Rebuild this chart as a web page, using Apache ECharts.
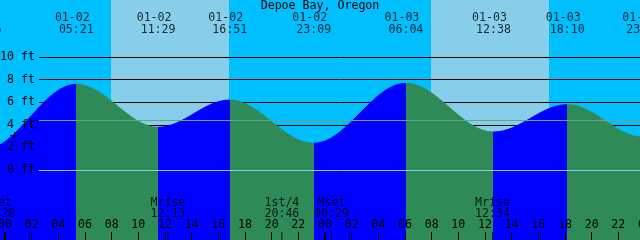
<!DOCTYPE html>
<html><head><meta charset="utf-8">
<script src="https://cdn.jsdelivr.net/npm/echarts@6/dist/echarts.min.js"></script>
<style>html,body{margin:0;padding:0;background:#00BFFF}#c{width:640px;height:240px}</style>
</head><body><div id="c"></div>
<script>
// ---------- data ----------
const title = 'Depoe Bay, Oregon';
// tide extremes (first and last are estimated, off-chart, only to shape the edges)
const tideDate   = ['01-01','01-01','01-02','01-02','01-02','01-02','01-03','01-03','01-03','01-03','01-04'];
const tideClock  = ['16:00','22:26','05:21','11:29','16:51','23:09','06:04','12:38','18:10','23:54','06:40'];
const tideHeight = [6.6, 1.8, 7.58, 3.78, 6.19, 2.36, 7.67, 3.36, 5.78, 2.9, 7.4];
// moon events
const moonName  = ['Mset','Mrise','1st/4','Mset','Mrise'];
const moonDate  = ['01-01','01-02','01-02','01-03','01-03'];
const moonClock = ['23:28','12:13','20:46','00:29','12:34'];
// daylight
const sunDate  = ['01-02','01-03'];
const sunrise  = ['07:57','07:57'];
const sunset   = ['16:48','16:48'];
// depth labels
const depthTicks = [0, 2, 4, 6, 8, 10];
const meanLevel = 4.4;
// marker "+"
const markerPts = [['01-02','00:43', 3.05]];

// ---------- layout ----------
const W = 640, H = 240, HOURS = 48, X0 = 5;
const PXH = W / HOURS;
const Y0 = 170, PXF = 11.3;
const FONT = '"DejaVu Sans Mono", monospace';
const FS = 11.6;
const RISE = '#0000FF', FALL = '#2E8B57', NIGHT = '#00BFFF', DAY = '#87CEEB';

function hrs(date, clock) {
  const d = +date.split('-')[1];
  const [h, m] = clock.split(':').map(Number);
  return (d - 2) * 24 + h + m / 60;
}
const tideT = tideDate.map((d, i) => hrs(d, tideClock[i]));
const tideData = tideT.map((t, i) => [t, tideHeight[i]]);
const pieces = [];
for (let i = 0; i < tideT.length - 1; i++) {
  pieces.push({gte: tideT[i], lt: tideT[i + 1], color: tideHeight[i + 1] > tideHeight[i] ? RISE : FALL});
}
const moonT = moonDate.map((d, i) => hrs(d, moonClock[i]));
const bands = sunDate.map((d, i) => [{xAxis: hrs(d, sunrise[i])}, {xAxis: hrs(d, sunset[i])}]);
const xMin = -X0 / PXH, xMax = (W - X0) / PXH;
const yMin = -(H - Y0) / PXF, yMax = Y0 / PXF;
const pad = n => (n < 10 ? '0' : '') + n;
const txt = {fontFamily: FONT, fontSize: FS, color: '#000'};
const noLine = {show: false, onZero: false};

const chart = echarts.init(document.getElementById('c'), null, {renderer: 'canvas'});
chart.setOption({
  animation: false,
  backgroundColor: NIGHT,
  title: {text: title, left: 'center', top: 0, padding: 0,
    textStyle: Object.assign({fontWeight: 'normal', lineHeight: 12}, txt)},
  grid: [
    {left: 0, right: 0, top: 0, bottom: 0, outerBoundsMode: 'none', containLabel: false},
    {left: 39, right: 0, top: Y0 - 10 * PXF, height: 10 * PXF, outerBoundsMode: 'none', containLabel: false},
    {left: X0, width: W, top: 0, bottom: 0, outerBoundsMode: 'none', containLabel: false}
  ],
  visualMap: {show: false, type: 'piecewise', seriesIndex: 0, dimension: 0, pieces: pieces},
  xAxis: [
    {gridIndex: 0, type: 'value', min: xMin, max: xMax, show: false, axisLine: noLine},
    {gridIndex: 1, type: 'value', min: 0, max: 1, show: false, axisLine: noLine},
    {gridIndex: 2, type: 'value', min: 0, max: HOURS, interval: 2, position: 'bottom', z: 6,
      axisLine: noLine, splitLine: {show: false},
      axisTick: {show: true, inside: true, length: 8, lineStyle: {color: '#000', width: 1}},
      axisLabel: Object.assign({show: true, inside: true, margin: 9, showMinLabel: true, showMaxLabel: true,
        formatter: v => pad(Math.round(v) % 24)}, txt)},
    {gridIndex: 2, type: 'value', min: 0, max: HOURS, interval: 24, position: 'bottom', z: 6,
      axisLine: noLine, splitLine: {show: false}, axisLabel: {show: false},
      axisTick: {show: true, inside: true, length: 8, lineStyle: {color: '#000', width: 2}}}
  ],
  yAxis: [
    {gridIndex: 0, type: 'value', min: yMin, max: yMax, show: false, axisLine: noLine},
    {gridIndex: 1, type: 'value', min: 0, max: 10, interval: 2, z: 2, position: 'left',
      axisLine: noLine, axisTick: {show: false}, axisLabel: {show: false},
      splitLine: {show: true, lineStyle: {color: '#000', width: 1}}},
    {gridIndex: 1, type: 'value', min: 0, max: 10, interval: 2, z: 10, position: 'left', offset: 0,
      axisLine: noLine, axisTick: {show: false}, splitLine: {show: false},
      axisLabel: Object.assign({show: true, margin: 4, formatter: v => v + ' ft'}, txt)},
    {gridIndex: 2, type: 'value', min: 0, max: 1, show: false, axisLine: noLine}
  ],
  series: [
    {type: 'line', xAxisIndex: 0, yAxisIndex: 0, data: tideData, z: 3,
      smooth: 0.36, smoothMonotone: 'x', symbol: 'none', showSymbol: false,
      lineStyle: {width: 1}, areaStyle: {opacity: 1, origin: 'start'},
      markArea: {silent: true, z: 1, itemStyle: {color: DAY, opacity: 1}, data: bands}},
    {type: 'line', xAxisIndex: 1, yAxisIndex: 1, data: [], z: 5,
      markLine: {silent: true, z: 5, symbol: ['none', 'none'], label: {show: false},
        data: [
          {yAxis: meanLevel, lineStyle: {color: '#66A58A', width: 1, type: 'solid'}},
          {yAxis: depthTicks[0], lineStyle: {color: DAY, width: 1, type: 'solid'}}
        ]}},
    {type: 'scatter', xAxisIndex: 0, yAxisIndex: 0, z: 7, clip: false,
      data: moonT.map(t => [t, yMin]),
      symbol: 'rect', symbolSize: [1, 8], symbolOffset: [0, -4], itemStyle: {color: '#000'},
      label: Object.assign({show: true, position: 'top', distance: 13, lineHeight: 11,
        formatter: p => moonName[p.dataIndex] + '\n' + moonClock[p.dataIndex]}, txt)},
    {type: 'scatter', xAxisIndex: 0, yAxisIndex: 0, z: 7, clip: false,
      data: tideT.map(t => [t, yMax]), symbolSize: 0,
      label: Object.assign({show: true, position: 'bottom', distance: 12, lineHeight: 11.7,
        formatter: p => '{d|' + tideDate[p.dataIndex] + '}\n{t|' + tideClock[p.dataIndex] + '}',
        rich: {d: Object.assign({padding: [0, 8, 0, 0], lineHeight: 11.7}, txt), t: Object.assign({lineHeight: 11.7}, txt)}}, txt)},
    {type: 'scatter', xAxisIndex: 0, yAxisIndex: 0, z: 8, clip: false,
      data: markerPts.map(m => [hrs(m[0], m[1]), m[2]]),
      symbol: 'path://M4,0h1v3h4v1h-4v3h-1v-3h-4v-1h4z', symbolSize: [9, 7], itemStyle: {color: '#000'}}
  ]
});
</script></body></html>
